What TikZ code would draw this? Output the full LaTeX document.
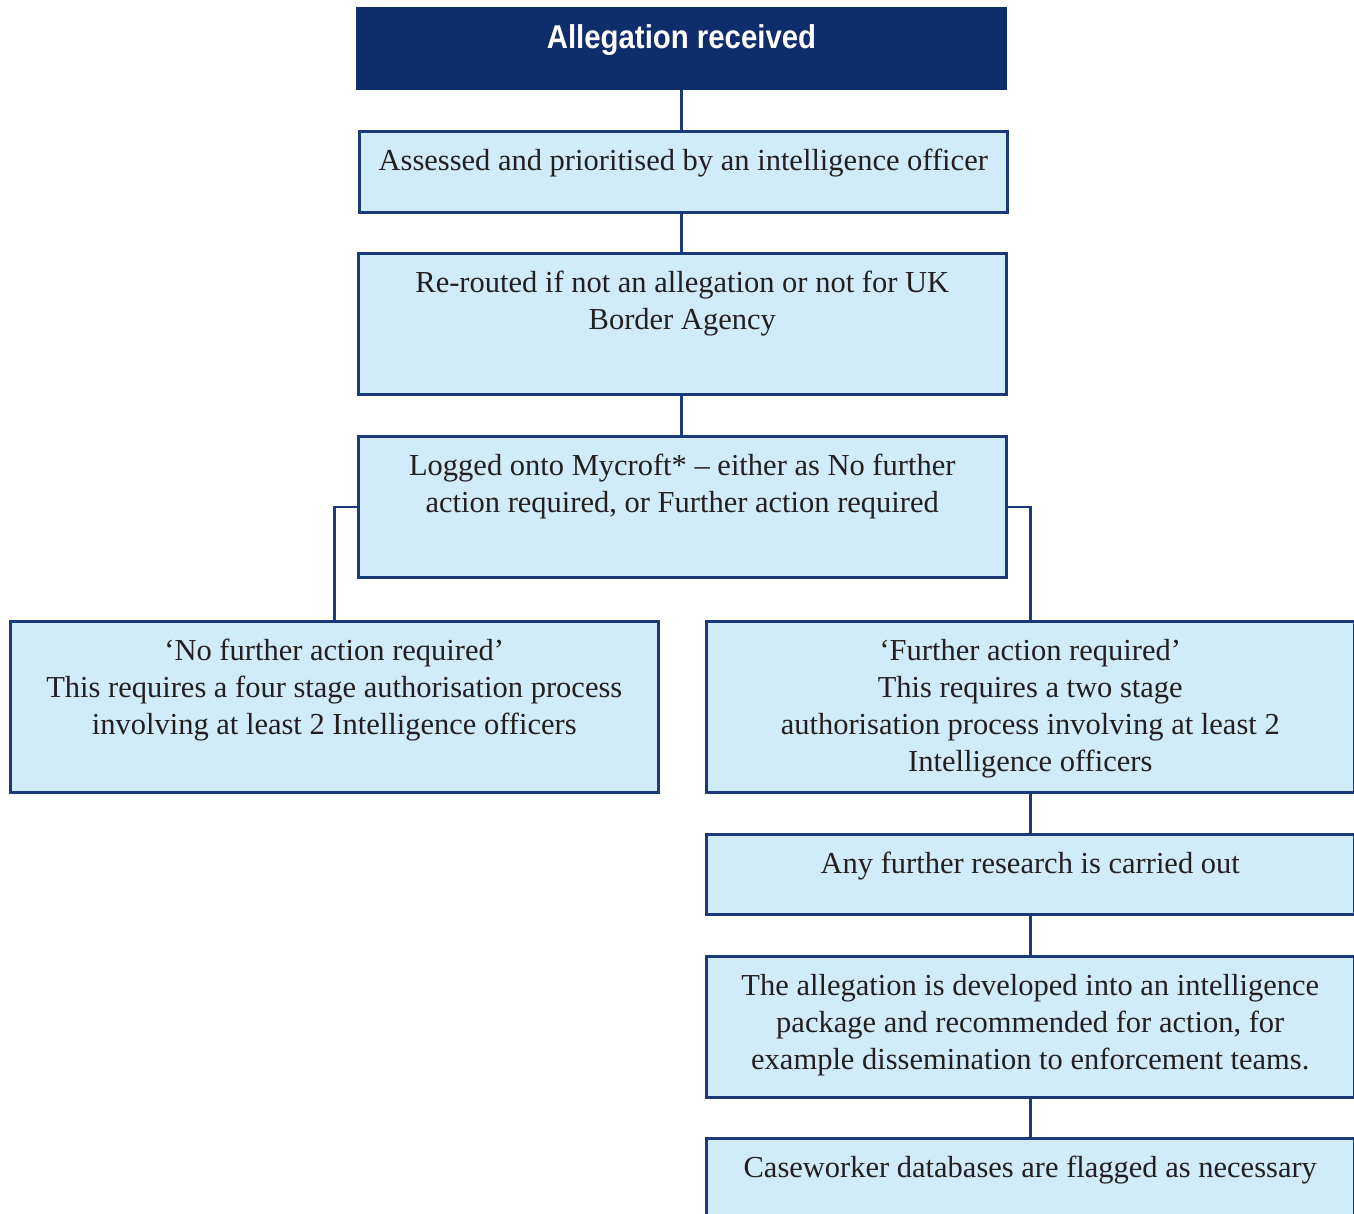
\documentclass[tikz,border=0pt]{standalone}
\usepackage{fontspec}
\setmainfont{Liberation Serif}
\newfontfamily\hdrfont[FakeStretch=0.89]{Liberation Sans}
\definecolor{navy}{HTML}{0F2C6B}
\definecolor{boxline}{HTML}{1A3A7A}
\definecolor{boxfill}{HTML}{D0EBF9}
\definecolor{inkc}{HTML}{231F20}
\begin{document}
\begin{tikzpicture}[x=1pt,y=-1pt,
  box/.style={draw=boxline, line width=2.5pt, fill=boxfill, inner sep=0pt, anchor=north west},
  hdrbox/.style={draw=navy, line width=1pt, fill=navy, inner sep=0pt, anchor=north west},
  txt/.style={anchor=north, inner sep=0pt, align=center, text=inkc,
    font=\fontsize{30.5pt}{37pt}\selectfont},
  hdrtxt/.style={anchor=north, inner sep=0pt, align=center, text=white,
    font=\hdrfont\bfseries\fontsize{33pt}{37pt}\selectfont},
  conn/.style={draw=boxline, line width=2.5pt}]
\useasboundingbox (0,0) rectangle (1354,1213);
\fill[white] (0,0) rectangle (1354,1213);

% boxes
\node[hdrbox, minimum width=650pt, minimum height=82pt] (b1) at (356,7) {};
\node[box, minimum width=648pt, minimum height=81pt] (b2) at (358,130) {};
\node[box, minimum width=648pt, minimum height=141pt] (b3) at (357,252) {};
\node[box, minimum width=648pt, minimum height=141pt] (b4) at (357,435) {};
\node[box, minimum width=648pt, minimum height=171pt] (bl) at (9,620) {};
\node[box, minimum width=648pt, minimum height=171pt] (br) at (705,620) {};
\node[box, minimum width=648pt, minimum height=80pt] (r2) at (705,833) {};
\node[box, minimum width=648pt, minimum height=141pt] (r3) at (705,955) {};
\node[box, minimum width=648pt, minimum height=110pt] (r4) at (705,1137) {};

% connectors
\draw[conn] (b1.south) -- (b1.south |- b2.north);
\draw[conn] (b2.south -| b1.south) -- (b1.south |- b3.north);
\draw[conn] (b3.south -| b1.south) -- (b1.south |- b4.north);
\draw[conn] (b4.west) -| (bl.north);
\draw[conn] (b4.east) -| (br.north);
\draw[conn] (br.south) -- (r2.north);
\draw[conn] (r2.south) -- (r3.north);
\draw[conn] (r3.south) -- (r4.north);

% texts
\node[hdrtxt] (t1) at ([yshift=-17pt]b1.north) {\rule{0pt}{24pt}Allegation received};
\node[txt] (t2) at ([yshift=-16pt]b2.north) {\rule{0pt}{24pt}Assessed and prioritised by an intelligence officer};
\node[txt] (t3) at ([yshift=-16pt]b3.north) {\rule{0pt}{24pt}Re-routed if not an allegation or not for UK\\Border Agency};
\node[txt] (t4) at ([yshift=-16pt]b4.north) {\rule{0pt}{24pt}Logged onto Mycroft* -- either as No further\\action required, or Further action required};
\node[txt] (tl) at ([yshift=-16pt]bl.north) {\rule{0pt}{24pt}‘No further action required’\\This requires a four stage authorisation process\\involving at least 2 Intelligence officers};
\node[txt] (tr) at ([yshift=-16pt]br.north) {\rule{0pt}{24pt}‘Further action required’\\This requires a two stage\\authorisation process involving at least 2\\Intelligence officers};
\node[txt] (tr2) at ([yshift=-16pt]r2.north) {\rule{0pt}{24pt}Any further research is carried out};
\node[txt] (tr3) at ([yshift=-16pt]r3.north) {\rule{0pt}{24pt}The allegation is developed into an intelligence\\package and recommended for action, for\\example dissemination to enforcement teams.};
\node[txt] (tr4) at ([yshift=-16pt]r4.north) {\rule{0pt}{24pt}Caseworker databases are flagged as necessary};
\end{tikzpicture}
\end{document}
